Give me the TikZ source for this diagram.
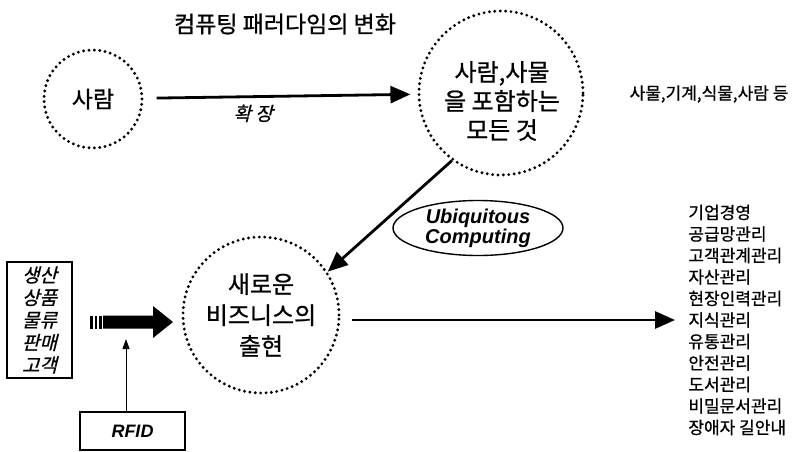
\documentclass[tikz,border=0pt]{standalone}
\usepackage{fontspec}
\setmainfont{Liberation Sans}
\newfontfamily\kr[FakeBold=0.8]{Noto Sans CJK KR}
\newfontfamily\krit[FakeSlant=0.25,FakeBold=0.8]{Noto Sans CJK KR}
\usetikzlibrary{arrows.meta,shapes.geometric}

\begin{document}
\begin{tikzpicture}[x=0.5pt,y=-0.5pt,
  dotcirc/.style={circle,draw,line width=1.6pt,dash pattern=on 0pt off 2.7pt,line cap=round,inner sep=0pt},
  bigarrow/.style={line width=1.4pt,-{Triangle[length=10pt,width=8.5pt]}},
  thinbox/.style={draw,line width=0.7pt},
  bigtext/.style={font=\kr\fontsize{12}{14.5}\selectfont,align=center},
  smalltext/.style={font=\kr\fontsize{8.5}{10.75}\selectfont}]
\useasboundingbox (0,0) rectangle (802,451);

\node[font=\kr\fontsize{11.5}{14}\selectfont] (title) at (285,24) {컴퓨팅 패러다임의 변화};

\node[dotcirc,minimum size=49pt,font=\kr\fontsize{11.5}{14}\selectfont] (c1) at (93,99) {사람};
\node[dotcirc,minimum size=82pt] (c2) at (501,93) {};
\node[bigtext] (c2txt) at (502,101) {사람,사물\\을 포함하는\\모든 것};
\node[dotcirc,minimum size=78pt,bigtext,font=\kr\fontsize{12}{15.5}\selectfont] (c3) at (261,315) {새로운\\비즈니스의\\출현};

\node[smalltext] (things) at (709,94) {사물,기계,식물,사람 등};

\draw[bigarrow,shorten <=6.5pt,shorten >=3.5pt] (c1) -- (c2)
  node[pos=0.4,below=0pt,font=\krit\fontsize{9.5}{11}\selectfont] (expand) {확 장};
\draw[bigarrow] (c2.234) -- (c3.33);

\node[ellipse,thinbox,minimum width=85pt,minimum height=27.5pt,inner sep=0pt,align=center,
  font=\bfseries\itshape\fontsize{10}{10}\selectfont] (ubi) at (478,228) {Ubiquitous\\Computing};

\node[smalltext,anchor=west,align=left,inner sep=0pt] (list) at (688,320)
  {기업경영\\공급망관리\\고객관계관리\\자산관리\\현장인력관리\\지식관리\\유통관리\\안전관리\\도서관리\\비밀문서관리\\장애자 길안내};
\draw[bigarrow,shorten <=5.5pt,shorten >=6.5pt] (c3.east |- list.west) -- (list.west);

\node[thinbox,minimum width=32.5pt,minimum height=58pt,inner sep=1pt,align=center,
  font=\krit\fontsize{9.5}{11.25}\selectfont] (fields) at (39.5,320) {생산\\상품\\물류\\판매\\고객};

\fill (103,315.5) -- (153,315.5) -- (153,306) -- (173,322) -- (153,338) -- (153,328.5) -- (103,328.5) -- cycle;
\foreach \x in {90,94.5,99}
  \fill (\x,315.5) rectangle ++(2.5,13);
\coordinate (flowbot) at (126,339);

\node[thinbox,minimum width=52.5pt,minimum height=19pt,font=\bfseries\itshape\fontsize{9}{10}\selectfont] (rfid) at (132.5,431) {RFID};
\draw[line width=0.5pt,-{Triangle[length=5pt,width=3.5pt]}] (rfid.north -| flowbot) -- (flowbot);
\end{tikzpicture}
\end{document}
